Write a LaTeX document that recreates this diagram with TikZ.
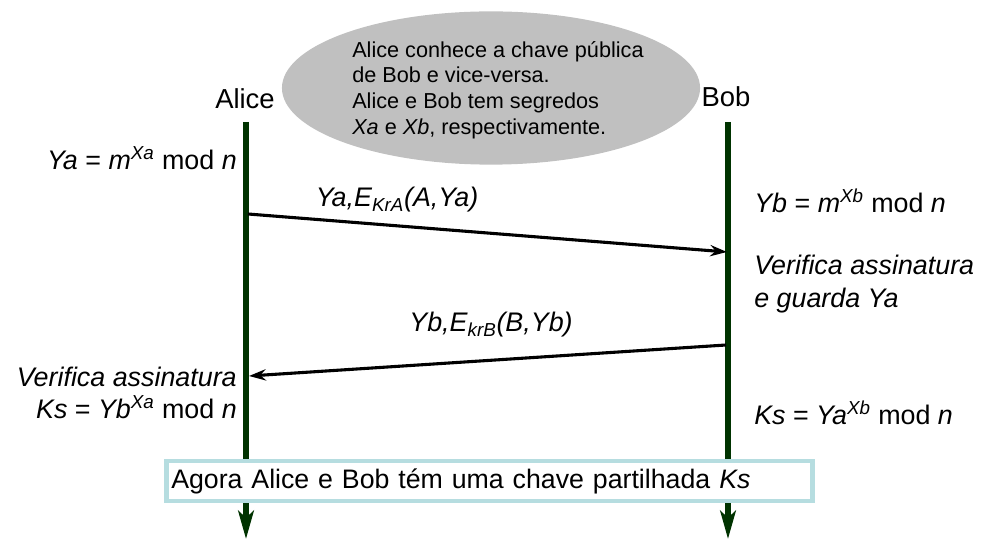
\documentclass[tikz,border=0pt]{standalone}
\usepackage{fontspec}
\setmainfont{Liberation Sans}
\usetikzlibrary{arrows.meta,shapes.geometric}

\definecolor{lifegreen}{RGB}{0,51,0}
\definecolor{notegray}{RGB}{192,192,192}
\definecolor{boxblue}{RGB}{182,221,224}

\begin{document}
\begin{tikzpicture}[x=0.025cm, y=-0.025cm,
  lifeline/.style={line width=4pt, draw=lifegreen, -{Stealth[length=20pt, width=11pt, inset=5pt]}},
  message/.style={line width=2.2pt, -{Stealth[length=12pt, width=8pt, inset=4pt]}},
  big/.style={font=\fontsize{19.1}{23}\selectfont, inner sep=0pt},
  party/.style={font=\fontsize{19.5}{23}\selectfont, inner sep=0pt}]
  \useasboundingbox (0,0) rectangle (987,543);
  \node (note) at (491,88) [shape=ellipse, fill=notegray, minimum width=10.45cm, minimum height=3.83cm, inner sep=0pt] {};
  \node (noteText) at (352,90) [anchor=west, inner sep=0pt, align=left, font=\fontsize{15.4}{18.2}\selectfont] {Alice conhece a chave pública\\de Bob e vice-versa.\\Alice e Bob tem segredos\\\textit{Xa} e \textit{Xb}, respectivamente.};
  \node (alice) at (245,99) [party] {Alice};
  \node (bob) at (726,97) [party] {Bob};
  \coordinate (aliceTop) at (246,122);
  \coordinate (aliceEnd) at (246,539);
  \coordinate (bobTop) at (728,122);
  \coordinate (bobEnd) at (728,539);
  \draw[lifeline] (aliceTop) -- (aliceEnd);
  \draw[lifeline] (bobTop) -- (bobEnd);
  \coordinate (a1) at (248,214);
  \coordinate (b1) at (727,252);
  \coordinate (b2) at (726,345);
  \coordinate (a2) at (249,376);
  \draw[message] (a1) -- (b1);
  \draw[message] (b2) -- (a2);
  \node (msgA) at (397,200) [big] {\textit{Ya,E\textsubscript{KrA}(A,Ya)}};
  \node (msgB) at (491,325) [big] {\textit{Yb,E\textsubscript{krB}(B,Yb)}};
  \node (ya) at (237,158) [big, anchor=east] {\textit{Ya} = \textit{m}\textsuperscript{\textit{Xa}} mod \textit{n}};
  \node (yb) at (754,201) [big, anchor=west] {\textit{Yb} = \textit{m}\textsuperscript{\textit{Xb}} mod \textit{n}};
  \node (bobCheck) at (754,284) [big, anchor=west, align=left] {\textit{Verifica assinatura}\\\textit{e guarda Ya}};
  \node (aliceCheck) at (237,393) [big, anchor=east, align=right] {\textit{Verifica assinatura}\\\textit{Ks} = \textit{Yb}\textsuperscript{\textit{Xa}} mod \textit{n}};
  \node (ksB) at (754,413) [big, anchor=west] {\textit{Ks} = \textit{Ya}\textsuperscript{\textit{Xb}} mod \textit{n}};
  \node (shared) at (164,481) [anchor=west, draw=boxblue, line width=3.5pt, fill=white, minimum height=1.0cm, text width=15.9cm, inner xsep=0.12cm, inner ysep=0pt, font=\fontsize{19}{23}\selectfont] {Agora Alice e Bob tém uma chave partilhada \textit{Ks}};
\end{tikzpicture}
\end{document}
